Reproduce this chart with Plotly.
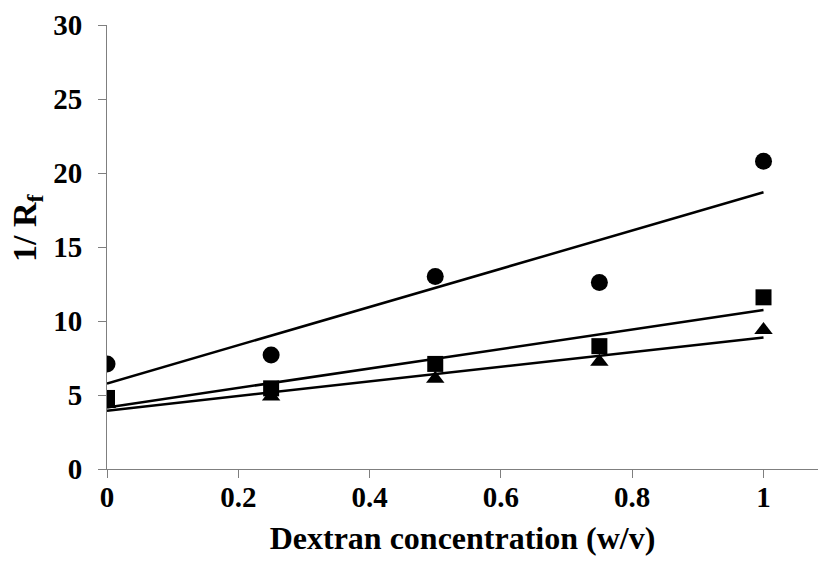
import numpy as np
import plotly.graph_objects as go

dextran = [0, 0.25, 0.5, 0.75, 1.0]
series_circle = [7.1, 7.7, 13.0, 12.6, 20.8]
series_square = [4.8, 5.45, 7.1, 8.3, 11.6]
series_triangle = [4.4, 4.9, 6.1, 7.25, 9.4]

x_ticks = [0, 0.2, 0.4, 0.6, 0.8, 1]
x_ticklabels = ["0", "0.2", "0.4", "0.6", "0.8", "1"]
y_ticks = [0, 5, 10, 15, 20, 25, 30]

FONT = "Liberation Serif, Times New Roman, serif"

fig = go.Figure()

series = [
    (series_circle, "circle", 17),
    (series_square, "square", 16),
    (series_triangle, "triangle-up", 16),
]

xa = np.array(dextran)
for ys, sym, sz in series:
    fig.add_trace(go.Scatter(
        x=dextran, y=ys, mode="markers",
        marker=dict(symbol=sym, size=sz, color="black"),
        showlegend=False, hoverinfo="skip"))
    m, c = np.polyfit(xa, np.array(ys), 1)
    fig.add_trace(go.Scatter(
        x=[0, 1], y=[c, m + c], mode="lines",
        line=dict(color="black", width=2.5),
        showlegend=False, hoverinfo="skip"))

fig.update_layout(
    width=818, height=564,
    margin=dict(l=107, r=0, t=25, b=95),
    paper_bgcolor="white", plot_bgcolor="white",
    font=dict(family=FONT, color="black"),
    xaxis=dict(
        range=[0, 1.083], tickvals=x_ticks, ticktext=x_ticklabels,
        showgrid=False, zeroline=False,
        showline=True, linecolor="#7f7f7f", linewidth=1,
        ticks="outside", ticklen=8, tickcolor="#7f7f7f", tickwidth=1,
        tickfont=dict(family=FONT, size=29, color="black", weight="bold"),
        ticklabelstandoff=-6,
        title=dict(text="Dextran concentration (w/v)", standoff=14,
                   font=dict(family=FONT, size=32, color="black", weight="bold")),
    ),
    yaxis=dict(
        range=[0, 30], tickvals=y_ticks,
        showgrid=False, zeroline=False,
        showline=True, linecolor="#7f7f7f", linewidth=1,
        ticks="outside", ticklen=8, tickcolor="#7f7f7f", tickwidth=1,
        tickfont=dict(family=FONT, size=29, color="black", weight="bold"),
        ticklabelstandoff=10,
    ),
    annotations=[dict(
        text="1/ R<sub>f</sub>", textangle=-90,
        xref="paper", yref="paper", x=(27 - 107) / 711, y=(469 - 228) / 444,
        xanchor="center", yanchor="middle", showarrow=False,
        font=dict(family=FONT, size=34, color="black", weight="bold"),
    )],
)

fig.write_html("out.html")
